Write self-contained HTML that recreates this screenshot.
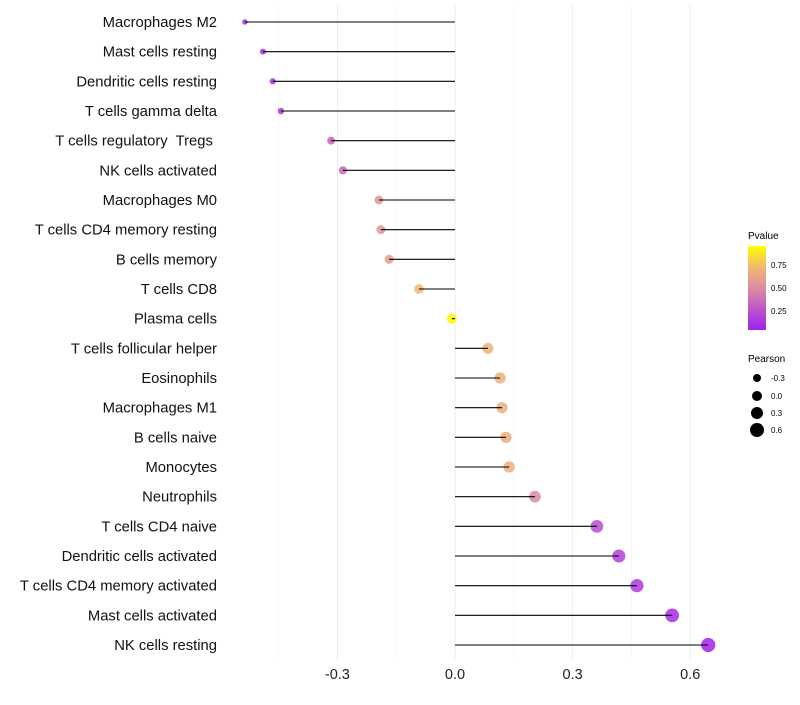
<!DOCTYPE html>
<html><head><meta charset="utf-8"><style>
body{margin:0;background:#fff;font-family:"Liberation Sans",sans-serif}
</style></head><body>
<svg id="chart" width="800" height="700">
<defs><linearGradient id="pg" x1="0" y1="1" x2="0" y2="0">
<stop offset="0" stop-color="#A020F0"/><stop offset="0.5" stop-color="#DC8CA0"/><stop offset="0.75" stop-color="#F0B870"/><stop offset="1" stop-color="#FFFF00"/></linearGradient></defs>
<g id="grid"></g><g id="marks"></g><g id="labels"></g>
<g>
<text x="748" y="239" font-size="10">Pvalue</text>
<rect x="748" y="246" width="18" height="84" fill="url(#pg)"/>
<text x="771" y="268" font-size="8">0.75</text>
<text x="771" y="291" font-size="8">0.50</text>
<text x="771" y="314" font-size="8">0.25</text>
</g>
<g>
<text x="748" y="362" font-size="10">Pearson</text>
<circle cx="757" cy="378" r="4"/><text x="771" y="381" font-size="8">-0.3</text>
<circle cx="757" cy="396" r="5"/><text x="771" y="399" font-size="8">0.0</text>
<circle cx="757" cy="413" r="6"/><text x="771" y="416" font-size="8">0.3</text>
<circle cx="757" cy="430" r="7"/><text x="771" y="433" font-size="8">0.6</text>
</g>
</svg>
<script>
const categories=["Macrophages M2","Mast cells resting","Dendritic cells resting","T cells gamma delta","T cells regulatory  Tregs ","NK cells activated","Macrophages M0","T cells CD4 memory resting","B cells memory","T cells CD8","Plasma cells","T cells follicular helper","Eosinophils","Macrophages M1","B cells naive","Monocytes","Neutrophils","T cells CD4 naive","Dendritic cells activated","T cells CD4 memory activated","Mast cells activated","NK cells resting"];
const pearson=[-0.536,-0.49,-0.465,-0.444,-0.316,-0.286,-0.194,-0.189,-0.168,-0.092,-0.008,0.084,0.115,0.12,0.13,0.138,0.204,0.362,0.418,0.464,0.554,0.646];
const pvalues=[0.02,0.08,0.1,0.12,0.3,0.32,0.55,0.55,0.6,0.75,0.98,0.72,0.7,0.7,0.68,0.7,0.5,0.2,0.15,0.12,0.06,0.02];
const ticks=[-0.3,0,0.3,0.6];
const tickLabels=["-0.3","0.0","0.3","0.6"];
const minorTicks=[-0.45,-0.15,0.15,0.45];
const NS="http://www.w3.org/2000/svg";
const x=v=>455+v*392;
const y=i=>22+i*(623/(categories.length-1));
const r=v=>Math.sqrt(Math.max(4,27+36.7*v));
const stops=[[0,[160,32,240]],[0.5,[220,140,160]],[0.75,[240,184,112]],[1,[255,255,0]]];
function col(p){for(let k=1;k<stops.length;k++){if(p<=stops[k][0]){const a=stops[k-1],b=stops[k],t=(p-a[0])/(b[0]-a[0]);return "rgb("+a[1].map((c,j)=>Math.round(c+(b[1][j]-c)*t)).join(",")+")";}}return "rgb(255,255,0)";}
function mk(t,at,parent){const e=document.createElementNS(NS,t);for(const k in at)e.setAttribute(k,at[k]);parent.appendChild(e);return e;}
const G=document.getElementById("grid"),M=document.getElementById("marks"),L=document.getElementById("labels");
minorTicks.forEach(t=>{const l=mk("line",{x1:x(t),x2:x(t),y1:5,y2:660,stroke:"#f4f4f4","stroke-width":0.6},G);

});
ticks.forEach((t,i)=>{const l=mk("line",{x1:x(t),x2:x(t),y1:5,y2:660,stroke:"#ededed","stroke-width":1},G);


const tx=mk("text",{x:x(t),y:679,"font-size":14.5,"text-anchor":"middle",fill:"#222"},L);tx.textContent=tickLabels[i];

});
categories.forEach((c,i)=>{
const ci=mk("circle",{cx:x(pearson[i]),cy:y(i),r:r(pearson[i]),fill:col(pvalues[i]),"fill-opacity":0.85},M);


const ln=mk("line",{x1:x(0),x2:x(pearson[i]),y1:y(i),y2:y(i),stroke:"#000","stroke-width":1.1},M);


const tx=mk("text",{x:217,y:y(i)+5,"font-size":14.8,"text-anchor":"end",fill:"#111","xml:space":"preserve"},L);
tx.setAttribute("style","white-space:pre");tx.textContent=c;


});
</script>
</body></html>
